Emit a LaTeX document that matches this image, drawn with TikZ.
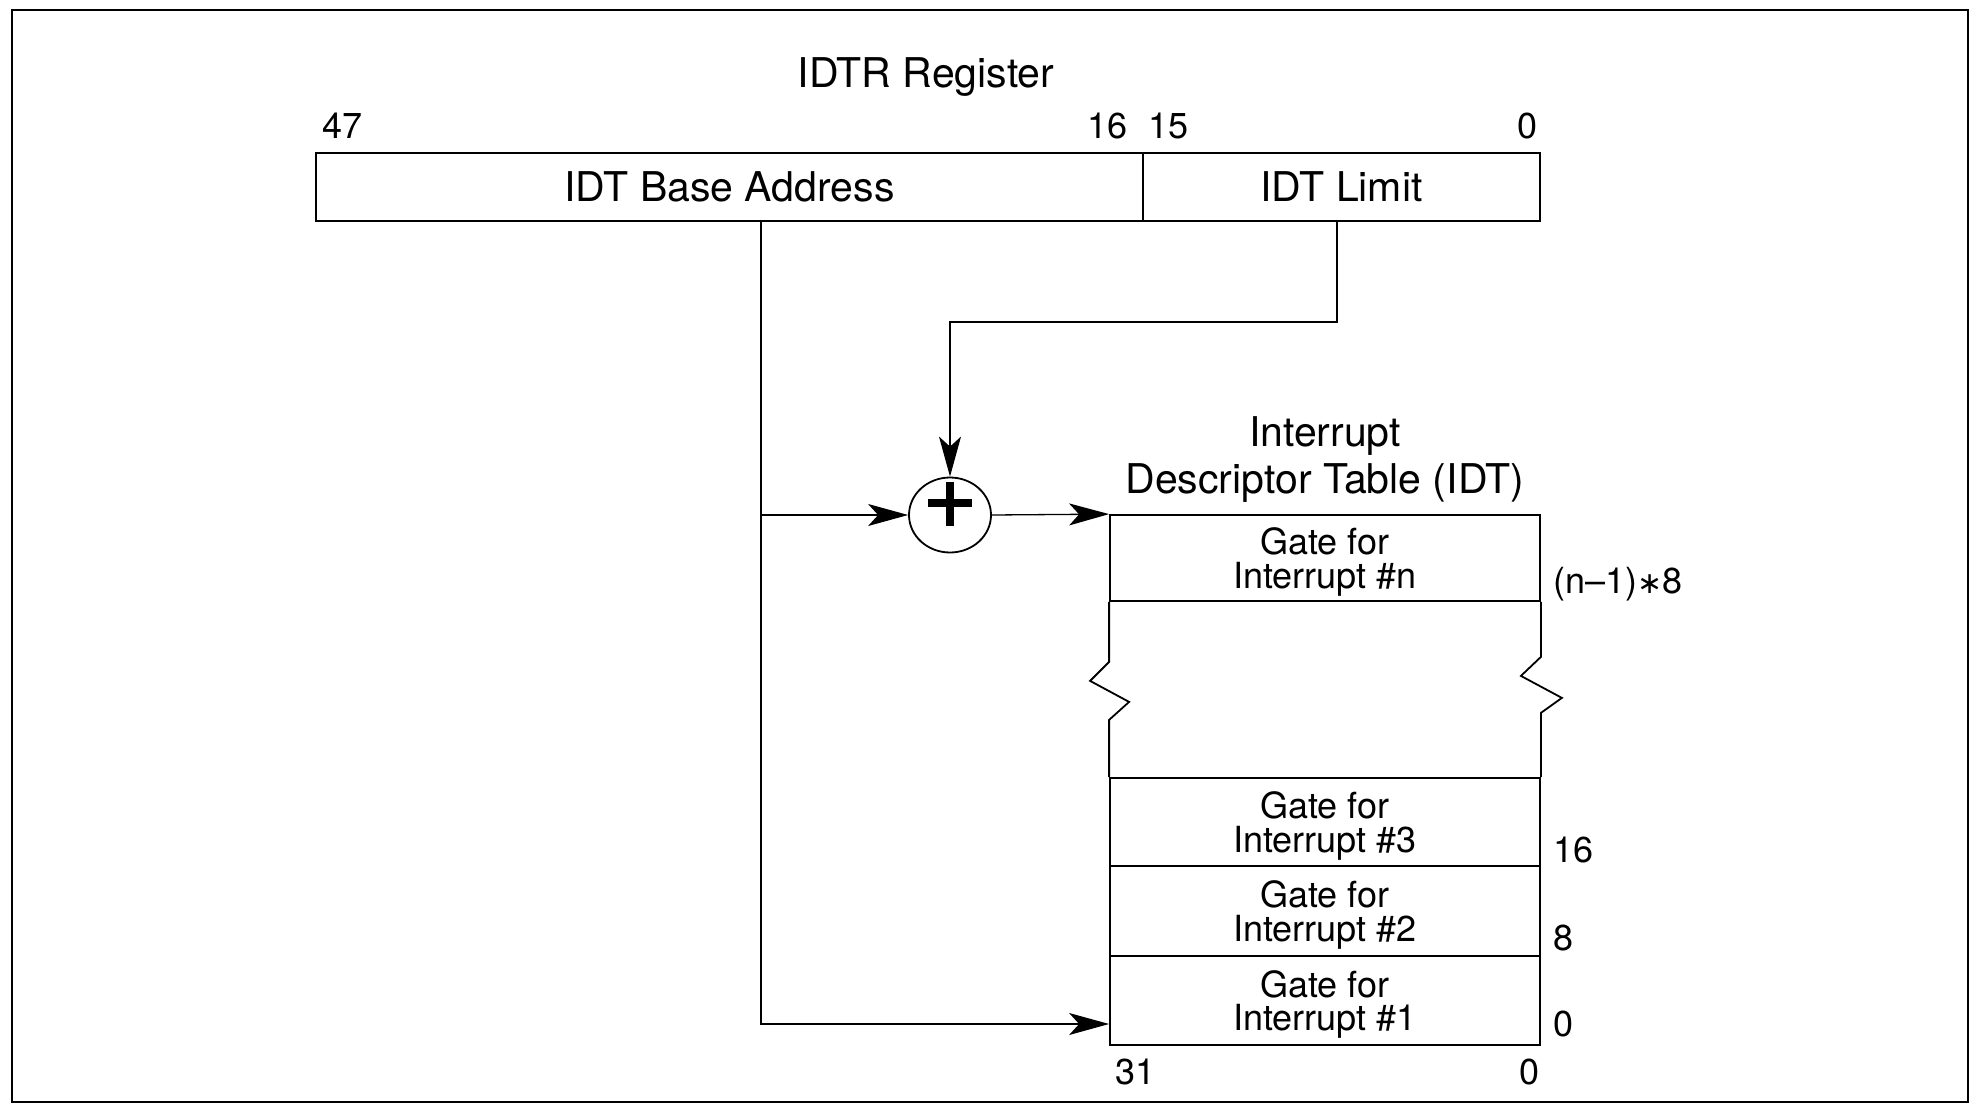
\documentclass[tikz,border=0pt]{standalone}
\usepackage{fontspec}
\setmainfont{TeX Gyre Heros}
\newfontfamily\symf{DejaVu Sans}
\usetikzlibrary{arrows.meta,shapes.geometric}
\newcommand\bigf{\fontsize{41}{47}\selectfont}
\newcommand\rowf{\fontsize{36}{33.5}\selectfont}
\newcommand\numf{\fontsize{36}{36}\selectfont}
\tikzset{
  regbox/.style={draw, line width=2pt, inner sep=0pt, minimum height=68pt, font=\bigf},
  rowbox/.style={draw, line width=1.8pt, inner sep=0pt, minimum width=430pt},
  rowtxt/.style={inner sep=0pt, align=center, font=\rowf},
  conn/.style={line width=1.3pt},
  arr/.style={conn, -{Stealth[length=40pt,width=22pt,inset=10pt]}},
  lbl/.style={inner sep=0pt, font=\numf},
  wall/.style={line width=1.8pt, line join=miter},
  plusbar/.style={line width=8pt},
}
\begin{document}
\begin{tikzpicture}[x=1pt,y=-1pt]
\useasboundingbox (0,0) rectangle (1980,1110);
\draw[line width=2pt] (12,10) rectangle (1968,1102);

% IDTR register
\node[inner sep=0pt, font=\bigf] (title) at (926,77) {IDTR Register};
\node[regbox, minimum width=827pt] (base) at (729.5,187) {IDT Base Address};
\node[regbox, minimum width=397pt] (limit) at (1341.5,187) {IDT Limit};
\node[lbl, anchor=west] (b47) at (322,126) {47};
\node[lbl, anchor=east] (b16) at (1128,126) {16};
\node[lbl, anchor=west] (b15) at (1148,126) {15};
\node[lbl, anchor=east] (b0) at (1538,126) {0};

% adder
\node[draw, ellipse, line width=1.8pt, minimum width=82pt, minimum height=75pt, inner sep=0pt] (plus) at (950,515) {};
\draw[plusbar] ([yshift=33pt]plus.center) -- ([yshift=-11pt]plus.center);
\draw[plusbar] ([xshift=-22pt,yshift=12pt]plus.center) -- ([xshift=22pt,yshift=12pt]plus.center);

% IDT
\node[inner sep=0pt, align=center, font=\bigf] (idttitle) at (1325,460) {Interrupt\\Descriptor Table (IDT)};
\node[rowbox, minimum height=86pt] (rown) at (1325,558) {};
\node[rowbox, minimum height=88pt] (row3) at (1325,822) {};
\node[rowbox, minimum height=90pt] (row2) at (1325,911) {};
\node[rowbox, minimum height=89pt] (row1) at (1325,1000.5) {};
\node[rowtxt] (tn) at ([yshift=-4pt]rown.center) {Gate for\\Interrupt \#n};
\node[rowtxt] (t3) at ([yshift=-4pt]row3.center) {Gate for\\Interrupt \#3};
\node[rowtxt] (t2) at ([yshift=-4pt]row2.center) {Gate for\\Interrupt \#2};
\node[rowtxt] (t1) at ([yshift=-4pt]row1.center) {Gate for\\Interrupt \#1};

% broken walls
\draw[wall] (rown.south west) -- ++(0,60) -- ++(-19,19) -- ++(39,21) -- ++(-20,18) -- (row3.north west);
\draw[wall] (rown.south east) -- ++(0,55) -- ++(-20,19) -- ++(41,22) -- ++(-21,15) -- (row3.north east);

% offsets
\node[lbl, anchor=west] (offn) at (1553,584) {(n–1){\symf\fontsize{30}{30}\selectfont ∗}8};
\node[lbl, anchor=west] (off16) at (1553,850) {16};
\node[lbl, anchor=west] (off8) at (1553,938) {8};
\node[lbl, anchor=west] (off0) at (1553,1024) {0};
\node[lbl, anchor=west] (t31) at (1115,1072) {31};
\node[lbl, anchor=east] (t0) at (1540,1072) {0};

% connectors
\coordinate (bj) at (761,515);
\coordinate (bb) at (761,1024);
\coordinate (lc) at (1337,322);
\draw[arr] (base.south -| bb) -- (bb) -- (bb -| row1.west);
\draw[arr, line width=1.1pt] (bj) -- (plus.west);
\draw[arr] (limit.south -| lc) -- (lc) -- (lc -| plus.north) -- (plus.north);
\draw[arr] (plus.east) -- (rown.north west);
\end{tikzpicture}
\end{document}
